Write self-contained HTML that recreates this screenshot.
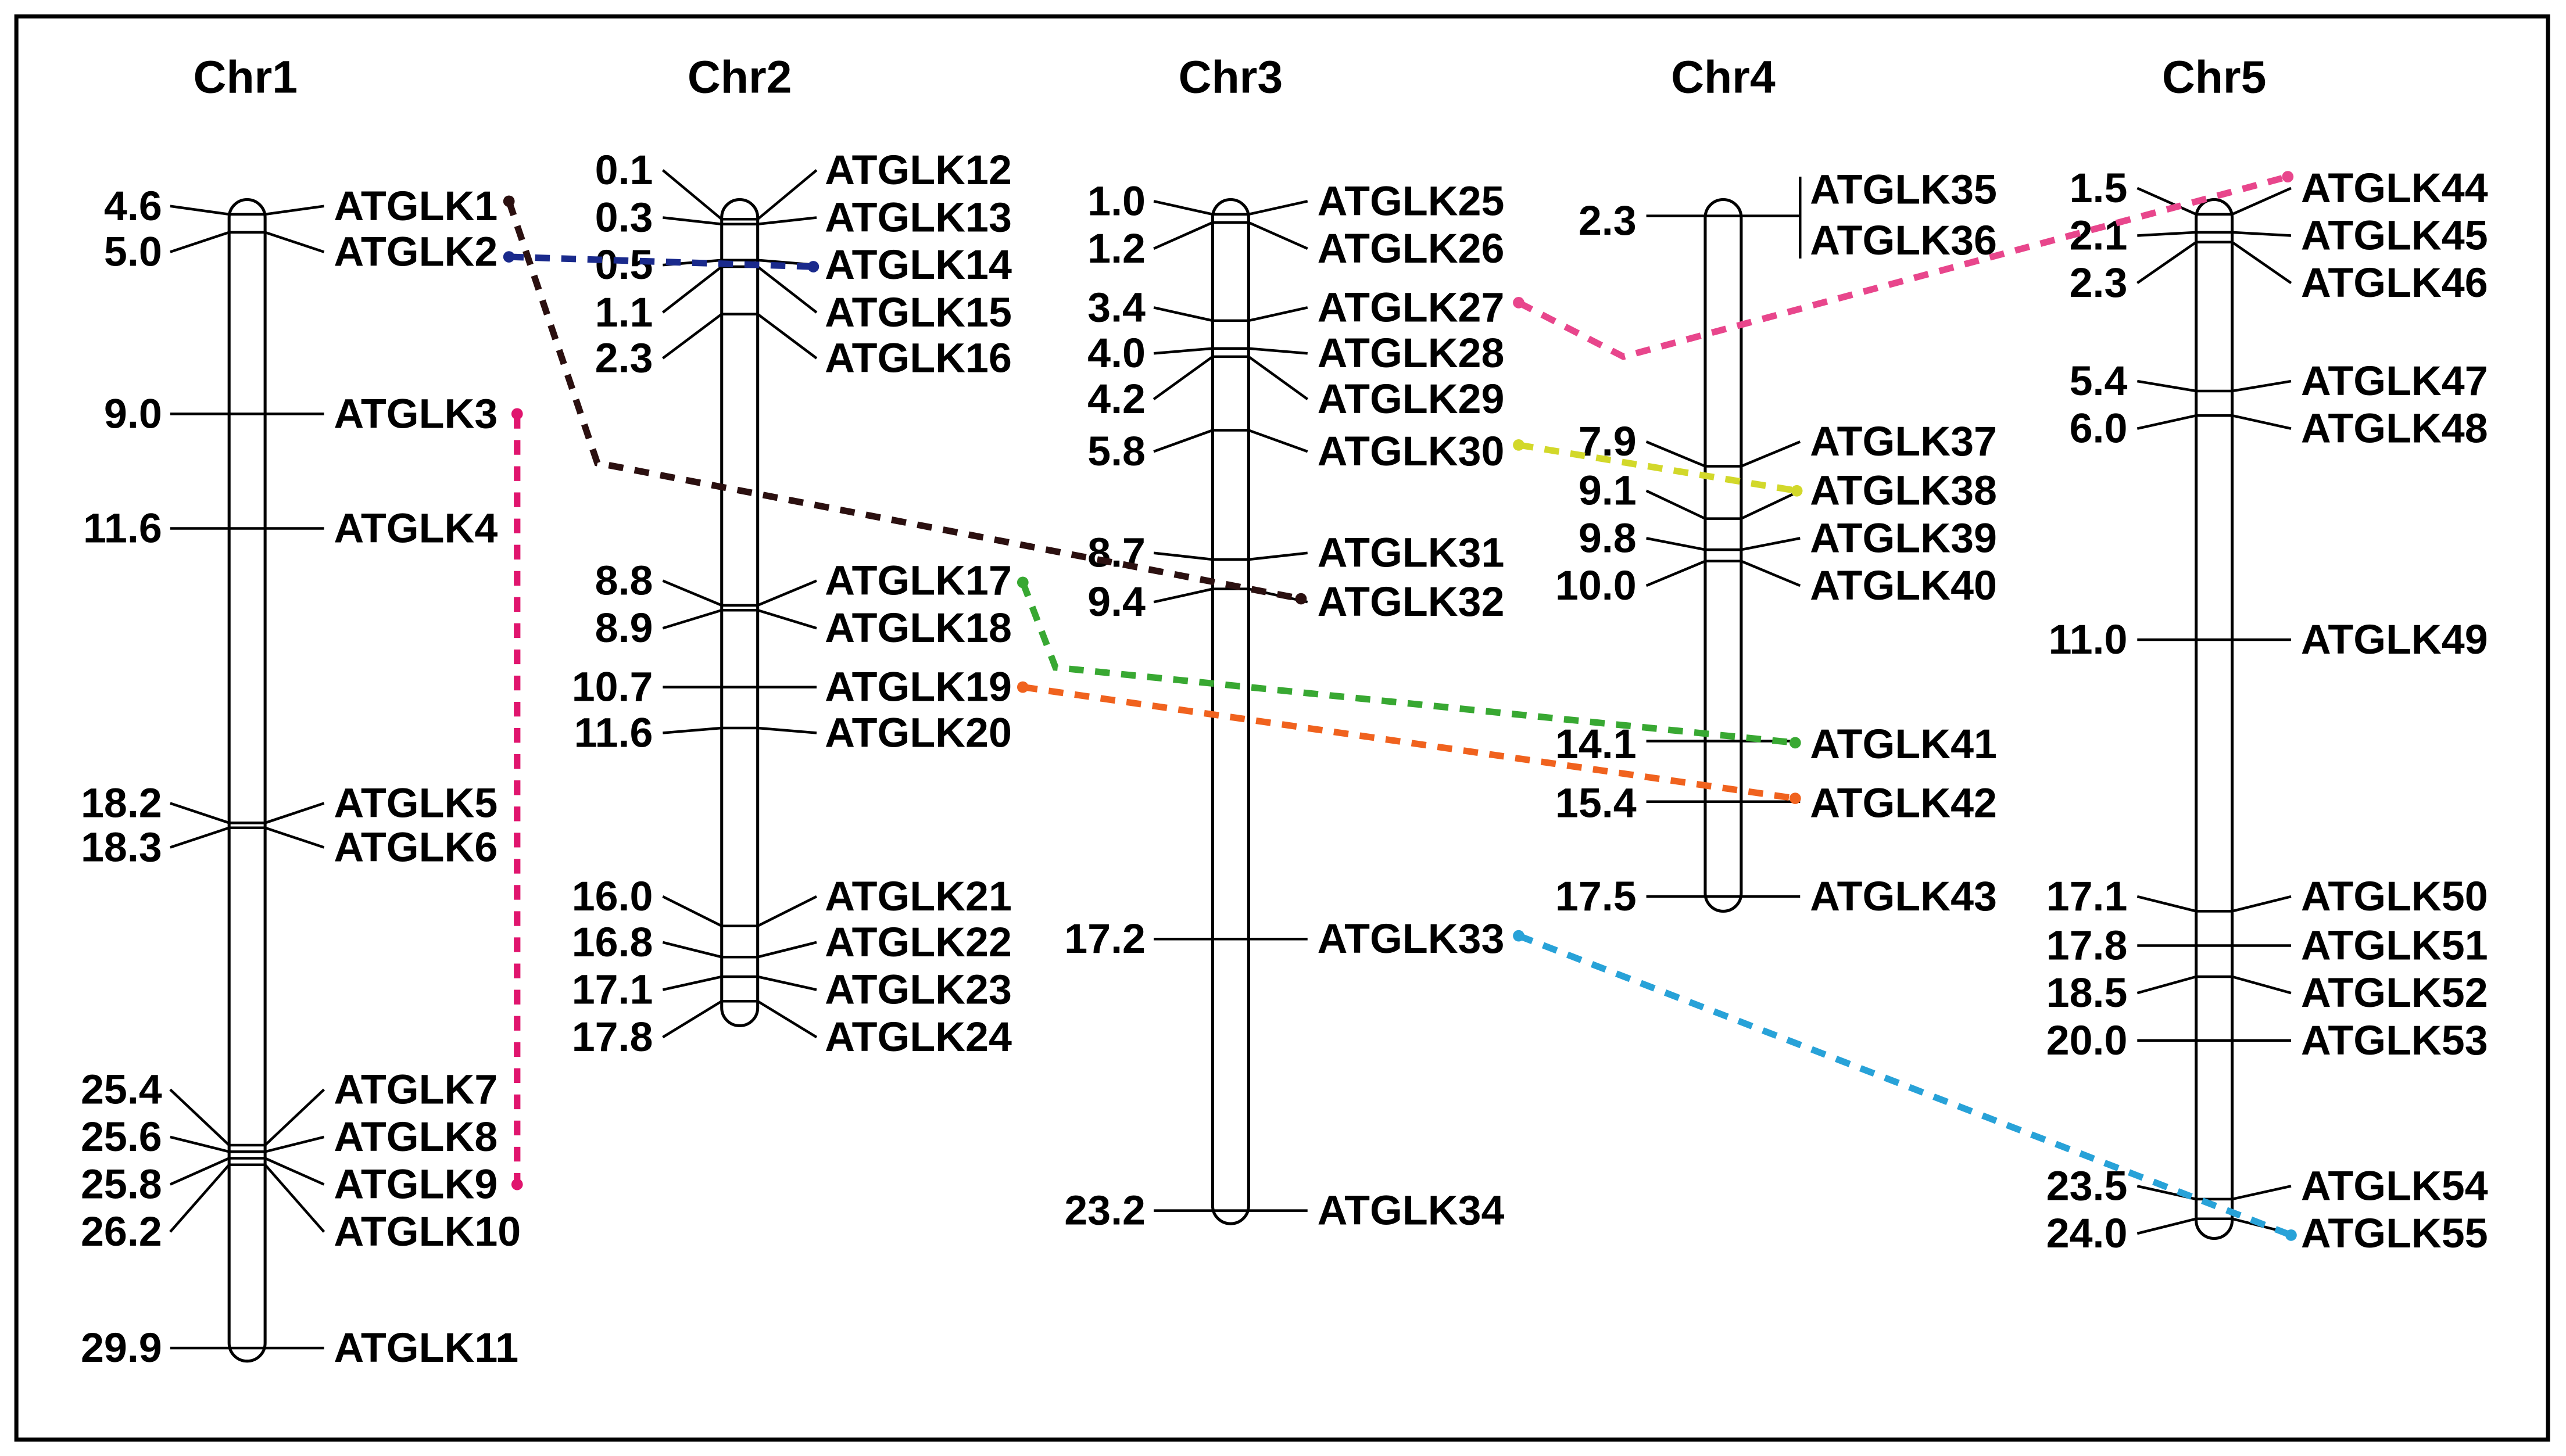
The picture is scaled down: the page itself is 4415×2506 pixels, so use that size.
<!DOCTYPE html>
<html><head><meta charset="utf-8"><style>
html,body{margin:0;padding:0;background:#fff;}
svg{display:block;}
text{font-family:"Liberation Sans",Arial,sans-serif;font-weight:bold;font-size:25.5px;fill:#000;dominant-baseline:central;}
.n{text-anchor:end;}
.t{font-size:28px;text-anchor:middle;}
.k{fill:none;stroke:#000;stroke-width:1.6;}
.c{fill:#fff;stroke:#000;stroke-width:1.8;}
.d{fill:none;stroke-width:4;stroke-dasharray:9,7;}
</style></head><body>
<svg width="4415" height="2506" viewBox="0 0 1568 890" preserveAspectRatio="none">
<rect x="0" y="0" width="1568" height="890" fill="#fff"/>
<rect x="10" y="10" width="1547" height="870" fill="none" stroke="#000" stroke-width="2.5"/>
<text class="t" x="150" y="47">Chr1</text>
<text class="t" x="452" y="47">Chr2</text>
<text class="t" x="752" y="47">Chr3</text>
<text class="t" x="1053" y="47">Chr4</text>
<text class="t" x="1353" y="47">Chr5</text>

<rect class="c" x="140" y="122" width="22" height="710" rx="11"/>
<rect class="c" x="441" y="122" width="22" height="505" rx="11"/>
<rect class="c" x="741" y="122" width="22" height="626" rx="11"/>
<rect class="c" x="1042" y="122" width="22" height="435" rx="11"/>
<rect class="c" x="1342" y="122" width="22" height="635" rx="11"/>

<g class="k">
<polyline points="104,126 140,131 162,131 198,126"/>
<polyline points="104,154 140,142 162,142 198,154"/>
<polyline points="104,253 198,253"/>
<polyline points="104,323 198,323"/>
<polyline points="104,491 140,503 162,503 198,491"/>
<polyline points="104,518 140,506 162,506 198,518"/>
<polyline points="104,666 140,700 162,700 198,666"/>
<polyline points="104,695 140,704 162,704 198,695"/>
<polyline points="104,724 140,708 162,708 198,724"/>
<polyline points="104,753 140,712 162,712 198,753"/>
<polyline points="104,824 198,824"/>
</g>
<text class="n" x="99" y="126">4.6</text><text x="204" y="126">ATGLK1</text>
<text class="n" x="99" y="154">5.0</text><text x="204" y="154">ATGLK2</text>
<text class="n" x="99" y="253">9.0</text><text x="204" y="253">ATGLK3</text>
<text class="n" x="99" y="323">11.6</text><text x="204" y="323">ATGLK4</text>
<text class="n" x="99" y="491">18.2</text><text x="204" y="491">ATGLK5</text>
<text class="n" x="99" y="518">18.3</text><text x="204" y="518">ATGLK6</text>
<text class="n" x="99" y="666">25.4</text><text x="204" y="666">ATGLK7</text>
<text class="n" x="99" y="695">25.6</text><text x="204" y="695">ATGLK8</text>
<text class="n" x="99" y="724">25.8</text><text x="204" y="724">ATGLK9</text>
<text class="n" x="99" y="753">26.2</text><text x="204" y="753">ATGLK10</text>
<text class="n" x="99" y="824">29.9</text><text x="204" y="824">ATGLK11</text>

<g class="k">
<polyline points="405,104 441,134 463,134 499,104"/>
<polyline points="405,133 441,137 463,137 499,133"/>
<polyline points="405,162 441,159 463,159 499,162"/>
<polyline points="405,191 441,163 463,163 499,191"/>
<polyline points="405,219 441,192 463,192 499,219"/>
<polyline points="405,355 441,370 463,370 499,355"/>
<polyline points="405,384 441,373 463,373 499,384"/>
<polyline points="405,420 499,420"/>
<polyline points="405,448 441,445 463,445 499,448"/>
<polyline points="405,548 441,566 463,566 499,548"/>
<polyline points="405,576 441,585 463,585 499,576"/>
<polyline points="405,605 441,597 463,597 499,605"/>
<polyline points="405,634 441,612 463,612 499,634"/>
</g>
<text class="n" x="399" y="104">0.1</text><text x="504" y="104">ATGLK12</text>
<text class="n" x="399" y="133">0.3</text><text x="504" y="133">ATGLK13</text>
<text class="n" x="399" y="162">0.5</text><text x="504" y="162">ATGLK14</text>
<text class="n" x="399" y="191">1.1</text><text x="504" y="191">ATGLK15</text>
<text class="n" x="399" y="219">2.3</text><text x="504" y="219">ATGLK16</text>
<text class="n" x="399" y="355">8.8</text><text x="504" y="355">ATGLK17</text>
<text class="n" x="399" y="384">8.9</text><text x="504" y="384">ATGLK18</text>
<text class="n" x="399" y="420">10.7</text><text x="504" y="420">ATGLK19</text>
<text class="n" x="399" y="448">11.6</text><text x="504" y="448">ATGLK20</text>
<text class="n" x="399" y="548">16.0</text><text x="504" y="548">ATGLK21</text>
<text class="n" x="399" y="576">16.8</text><text x="504" y="576">ATGLK22</text>
<text class="n" x="399" y="605">17.1</text><text x="504" y="605">ATGLK23</text>
<text class="n" x="399" y="634">17.8</text><text x="504" y="634">ATGLK24</text>

<g class="k">
<polyline points="705,123 741,131 763,131 799,123"/>
<polyline points="705,152 741,136 763,136 799,152"/>
<polyline points="705,188 741,196 763,196 799,188"/>
<polyline points="705,216 741,213 763,213 799,216"/>
<polyline points="705,244 741,218 763,218 799,244"/>
<polyline points="705,276 741,263 763,263 799,276"/>
<polyline points="705,338 741,342 763,342 799,338"/>
<polyline points="705,368 741,360 763,360 799,368"/>
<polyline points="705,574 799,574"/>
<polyline points="705,740 799,740"/>
</g>
<text class="n" x="700" y="123">1.0</text><text x="805" y="123">ATGLK25</text>
<text class="n" x="700" y="152">1.2</text><text x="805" y="152">ATGLK26</text>
<text class="n" x="700" y="188">3.4</text><text x="805" y="188">ATGLK27</text>
<text class="n" x="700" y="216">4.0</text><text x="805" y="216">ATGLK28</text>
<text class="n" x="700" y="244">4.2</text><text x="805" y="244">ATGLK29</text>
<text class="n" x="700" y="276">5.8</text><text x="805" y="276">ATGLK30</text>
<text class="n" x="700" y="338">8.7</text><text x="805" y="338">ATGLK31</text>
<text class="n" x="700" y="368">9.4</text><text x="805" y="368">ATGLK32</text>
<text class="n" x="700" y="574">17.2</text><text x="805" y="574">ATGLK33</text>
<text class="n" x="700" y="740">23.2</text><text x="805" y="740">ATGLK34</text>

<g class="k">
<polyline points="1006,132 1100,132"/>
<polyline points="1100,108 1100,158"/>
<polyline points="1006,270 1042,285 1064,285 1100,270"/>
<polyline points="1006,300 1042,317 1064,317 1100,300"/>
<polyline points="1006,329 1042,336 1064,336 1100,329"/>
<polyline points="1006,358 1042,343 1064,343 1100,358"/>
<polyline points="1006,453 1100,453"/>
<polyline points="1006,490 1100,490"/>
<polyline points="1006,548 1100,548"/>
</g>
<text class="n" x="1000" y="135">2.3</text>
<text x="1106" y="116">ATGLK35</text><text x="1106" y="147">ATGLK36</text>
<text class="n" x="1000" y="270">7.9</text><text x="1106" y="270">ATGLK37</text>
<text class="n" x="1000" y="300">9.1</text><text x="1106" y="300">ATGLK38</text>
<text class="n" x="1000" y="329">9.8</text><text x="1106" y="329">ATGLK39</text>
<text class="n" x="1000" y="358">10.0</text><text x="1106" y="358">ATGLK40</text>
<text class="n" x="1000" y="455">14.1</text><text x="1106" y="455">ATGLK41</text>
<text class="n" x="1000" y="491">15.4</text><text x="1106" y="491">ATGLK42</text>
<text class="n" x="1000" y="548">17.5</text><text x="1106" y="548">ATGLK43</text>

<g class="k">
<polyline points="1306,115 1342,131 1364,131 1400,115"/>
<polyline points="1306,144 1342,142 1364,142 1400,144"/>
<polyline points="1306,173 1342,148 1364,148 1400,173"/>
<polyline points="1306,233 1342,239 1364,239 1400,233"/>
<polyline points="1306,262 1342,254 1364,254 1400,262"/>
<polyline points="1306,391 1400,391"/>
<polyline points="1306,548 1342,557 1364,557 1400,548"/>
<polyline points="1306,578 1400,578"/>
<polyline points="1306,607 1342,597 1364,597 1400,607"/>
<polyline points="1306,636 1400,636"/>
<polyline points="1306,725 1342,733 1364,733 1400,725"/>
<polyline points="1306,754 1342,745 1364,745 1400,754"/>
</g>
<text class="n" x="1300" y="115">1.5</text><text x="1406" y="115">ATGLK44</text>
<text class="n" x="1300" y="144">2.1</text><text x="1406" y="144">ATGLK45</text>
<text class="n" x="1300" y="173">2.3</text><text x="1406" y="173">ATGLK46</text>
<text class="n" x="1300" y="233">5.4</text><text x="1406" y="233">ATGLK47</text>
<text class="n" x="1300" y="262">6.0</text><text x="1406" y="262">ATGLK48</text>
<text class="n" x="1300" y="391">11.0</text><text x="1406" y="391">ATGLK49</text>
<text class="n" x="1300" y="548">17.1</text><text x="1406" y="548">ATGLK50</text>
<text class="n" x="1300" y="578">17.8</text><text x="1406" y="578">ATGLK51</text>
<text class="n" x="1300" y="607">18.5</text><text x="1406" y="607">ATGLK52</text>
<text class="n" x="1300" y="636">20.0</text><text x="1406" y="636">ATGLK53</text>
<text class="n" x="1300" y="725">23.5</text><text x="1406" y="725">ATGLK54</text>
<text class="n" x="1300" y="754">24.0</text><text x="1406" y="754">ATGLK55</text>

<polyline class="d" stroke="#2b1010" points="311,123 365,283 795,366"/>
<circle cx="311" cy="123" r="3.5" fill="#2b1010"/><circle cx="795" cy="366" r="3.5" fill="#2b1010"/>
<polyline class="d" stroke="#1a2a8c" points="311,157 497,163"/>
<circle cx="311" cy="157" r="3.5" fill="#1a2a8c"/><circle cx="497" cy="163" r="3.5" fill="#1a2a8c"/>
<polyline class="d" stroke="#e0156e" points="316,253 316,724"/>
<circle cx="316" cy="253" r="3.5" fill="#e0156e"/><circle cx="316" cy="724" r="3.5" fill="#e0156e"/>
<polyline class="d" stroke="#e8468c" points="928,185 992,218 1398,108"/>
<circle cx="928" cy="185" r="3.5" fill="#e8468c"/><circle cx="1398" cy="108" r="3.5" fill="#e8468c"/>
<polyline class="d" stroke="#d2d82a" points="928,272 1098,300"/>
<circle cx="928" cy="272" r="3.5" fill="#d2d82a"/><circle cx="1098" cy="300" r="3.5" fill="#d2d82a"/>
<polyline class="d" stroke="#38a832" points="625,356 645,408 1097,454"/>
<circle cx="625" cy="356" r="3.5" fill="#38a832"/><circle cx="1097" cy="454" r="3.5" fill="#38a832"/>
<polyline class="d" stroke="#f0621e" points="625,420 1097,488"/>
<circle cx="625" cy="420" r="3.5" fill="#f0621e"/><circle cx="1097" cy="488" r="3.5" fill="#f0621e"/>
<polyline class="d" stroke="#28a2d8" points="928,572 1400,755"/>
<circle cx="928" cy="572" r="3.5" fill="#28a2d8"/><circle cx="1400" cy="755" r="3.5" fill="#28a2d8"/>
</svg>
</body></html>
